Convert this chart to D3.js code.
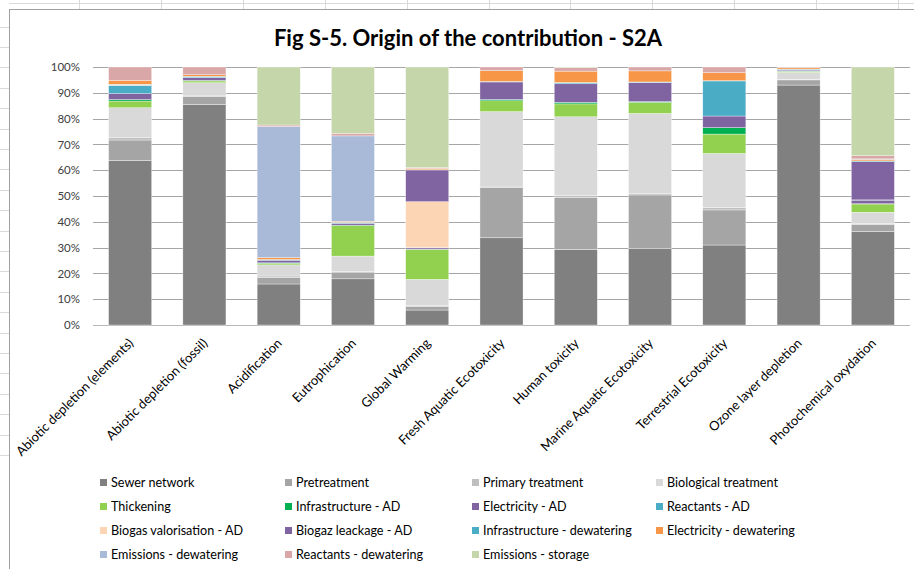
<!DOCTYPE html>
<html>
<head>
<meta charset="utf-8">
<script src="https://cdn.jsdelivr.net/npm/d3@7"></script>
<style>
  html, body { margin: 0; padding: 0; background: #fff; }
  svg { display: block; font-family: "Lato", "Open Sans", sans-serif; }
</style>
</head>
<body>
<svg id="chart" width="914" height="569"></svg>
<script>
// Impact categories (x axis)
const categories = [
  "Abiotic depletion (elements)", "Abiotic depletion (fossil)", "Acidification",
  "Eutrophication", "Global Warming", "Fresh Aquatic Ecotoxicity", "Human toxicity",
  "Marine Aquatic Ecotoxicity", "Terrestrial Ecotoxicity", "Ozone layer depletion",
  "Photochemical oxydation"
];

// Contributing process steps, stacked from bottom to top
const seriesNames = [
  "Sewer network", "Pretreatment", "Primary treatment", "Biological treatment",
  "Thickening", "Infrastructure - AD", "Electricity - AD", "Reactants -  AD",
  "Biogas valorisation - AD", "Biogaz leackage - AD", "Infrastructure - dewatering",
  "Electricity - dewatering", "Emissions - dewatering", "Reactants - dewatering",
  "Emissions - storage"
];

const seriesColors = [
  "#808080", "#a5a5a5", "#bfbfbf", "#d9d9d9",
  "#92d050", "#00b050", "#8064a2", "#4bacc6",
  "#fcd5b5", "#8064a2", "#4bacc6", "#f79646",
  "#a9bad8", "#d9a7a7", "#c5d6ab"
];

// Share (%) of each step, one array per step, in category order
const sewerNetwork          = [63.8, 85.5, 15.9, 17.9,  5.8, 33.8, 29.3, 29.6, 31.0, 93.0, 36.2];
const pretreatment          = [ 7.9,  3.0,  2.6,  2.6,  1.3, 19.4, 20.2, 20.8, 13.6,  2.0,  2.8];
const primaryTreatment      = [ 0.9,  0.3,  0.5,  0.3,  0.4,  0.3,  0.6,  0.6,  0.9,  0.2,  0.4];
const biologicalTreatment   = [11.6,  5.1,  4.3,  5.9, 10.2, 29.2, 30.6, 31.0, 21.0,  2.7,  4.3];
const thickening            = [ 2.6,  0.7,  0.6, 11.8, 11.6,  4.2,  5.0,  4.3,  7.5,  0.4,  3.2];
const infrastructureAD      = [ 0.6,  0.2,  0.2,  0.2,  0.1,  0.5,  0.6,  0.3,  2.5,  0.1,  0.1];
const electricityAD         = [ 2.3,  1.1,  1.0,  0.7,  0.5,  6.8,  7.2,  7.3,  4.5,  0.4,  1.4];
const reactantsAD           = [ 3.2,  0.4,  0.2,  0.3,  0.1,  0.1,  0.4,  0.2, 13.6,  0.3,  0.1];
const biogasValorisationAD  = [ 0.1,  0.0,  0.0,  0.0, 17.8,  0.0,  0.0,  0.0,  0.0,  0.0,  0.0];
const biogazLeackageAD      = [ 0.1,  0.0,  0.0,  0.0, 12.3,  0.0,  0.0,  0.0,  0.0,  0.0, 14.8];
const infrastructureDew     = [ 0.2,  0.1,  0.1,  0.1,  0.1,  0.1,  0.1,  0.1,  0.1,  0.1,  0.3];
const electricityDew        = [ 1.5,  0.6,  0.7,  0.4,  0.5,  4.2,  4.4,  4.3,  3.1,  0.5,  0.6];
const emissionsDew          = [ 0.0,  0.0, 50.8, 33.1,  0.0,  0.0,  0.0,  0.0,  0.0,  0.0,  0.2];
const reactantsDew          = [ 5.2,  3.0,  0.6,  1.0,  0.3,  1.4,  1.3,  1.5,  2.2,  0.3,  1.2];
const emissionsStorage      = [ 0.0,  0.0, 22.5, 25.7, 39.0,  0.0,  0.3,  0.0,  0.0,  0.0, 34.4];

const seriesValues = [
  sewerNetwork, pretreatment, primaryTreatment, biologicalTreatment, thickening,
  infrastructureAD, electricityAD, reactantsAD, biogasValorisationAD, biogazLeackageAD,
  infrastructureDew, electricityDew, emissionsDew, reactantsDew, emissionsStorage
];

const yTicks = [0, 10, 20, 30, 40, 50, 60, 70, 80, 90, 100];
const titleText = "Fig S-5. Origin of the contribution - S2A";

// ---- build rows for d3.stack ----
const rows = categories.map((c, i) => {
  const r = { category: c };
  seriesNames.forEach((s, j) => { r[s] = seriesValues[j][i]; });
  return r;
});
const stacked = d3.stack().keys(seriesNames)(rows);

const svg = d3.select("#chart");
const W = 914, H = 569;

// ---- worksheet backdrop around the chart object ----
const sheet = svg.append("g").attr("stroke", "#dadada").attr("stroke-width", 1);
d3.range(0, 23).forEach(k => {
  const y = Math.round(455 - k * 20.4) + 0.5;
  if (y > 9) sheet.append("line").attr("x1", 0).attr("x2", 9).attr("y1", y).attr("y2", y);
});
d3.range(0, 11).forEach(k => {
  const x = Math.round(79 + k * 81.9) + 0.5;
  sheet.append("line").attr("x1", x).attr("x2", x).attr("y1", 0).attr("y2", 9);
});
sheet.append("line").attr("x1", 9).attr("x2", W).attr("y1", 3.5).attr("y2", 3.5);

// chart object frame
svg.append("rect")
  .attr("x", 9.5).attr("y", 9.5).attr("width", W).attr("height", H)
  .attr("fill", "#fff").attr("stroke", "#a0a0a0").attr("stroke-width", 1);

// ---- scales ----
const x = d3.scaleBand().domain(categories).range([93, 910]).paddingInner(0.42).paddingOuter(0.21);
const y = d3.scaleLinear().domain([0, 100]).range([325, 67]);

// title
svg.append("text")
  .attr("x", 468).attr("y", 46)
  .attr("text-anchor", "middle")
  .attr("font-size", 22).attr("font-weight", "bold").attr("fill", "#000")
  .text(titleText);

// gridlines
svg.append("g").selectAll("line").data(yTicks).join("line")
  .attr("x1", 93).attr("x2", 910)
  .attr("y1", d => Math.round(y(d)) + 0.5).attr("y2", d => Math.round(y(d)) + 0.5)
  .attr("stroke", d => d === 0 ? "#b8b8b8" : "#a6a6a6").attr("stroke-width", 1);

// y axis labels
const yAxis = d3.axisLeft(y).tickValues(yTicks).tickFormat(d => d + "%").tickSize(0).tickPadding(0);
const yg = svg.append("g").attr("transform", "translate(80,0)").call(yAxis);
yg.select(".domain").remove();
yg.selectAll("text").attr("font-size", 11.5).attr("fill", "#404040")
  .attr("font-family", "Lato, 'Open Sans', sans-serif");

// stacked bars
svg.append("g").selectAll("g").data(stacked).join("g")
  .attr("fill", (d, i) => seriesColors[i])
  .selectAll("rect").data(d => d).join("rect")
  .attr("x", d => x(d.data.category))
  .attr("width", x.bandwidth())
  .attr("y", d => y(d[1]))
  .attr("height", d => Math.max(0, y(d[0]) - y(d[1])))
  .attr("stroke", "#ffffff").attr("stroke-width", 0.5).attr("stroke-opacity", 0.7);

// x axis category labels, rotated
svg.append("g").selectAll("text").data(categories).join("text")
  .attr("transform", d => `translate(${x(d) + x.bandwidth() / 2 + 4},${344}) rotate(-45)`)
  .attr("text-anchor", "end")
  .attr("font-size", 13).attr("fill", "#000")
  .text(d => d);

// legend, four columns, row-major order
const legendCols = [100, 285, 472, 656];
const legendRows = [483, 507, 531, 555];
const lg = svg.append("g").selectAll("g").data(seriesNames).join("g")
  .attr("transform", (d, i) => `translate(${legendCols[i % 4]},${legendRows[Math.floor(i / 4)]})`);
lg.append("rect").attr("x", 0).attr("y", -4).attr("width", 7).attr("height", 7)
  .attr("fill", (d, i) => seriesColors[i]);
lg.append("text").attr("x", 11).attr("y", 0).attr("dy", "0.35em")
  .attr("font-size", 12.6).attr("fill", "#000")
  .text(d => d);
</script>
</body>
</html>
